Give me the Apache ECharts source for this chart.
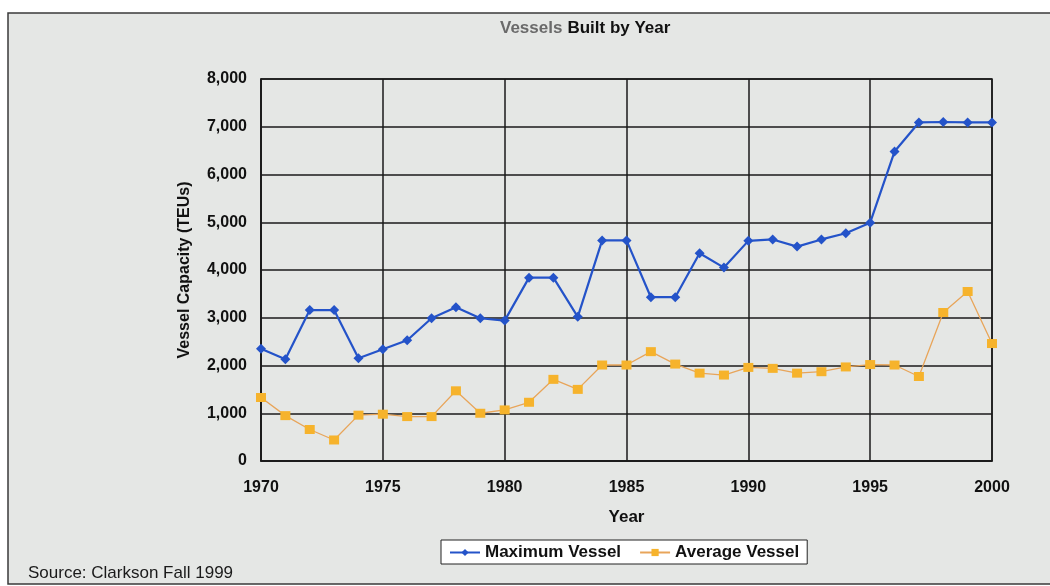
<!DOCTYPE html>
<html>
<head>
<meta charset="utf-8">
<script src="https://cdn.jsdelivr.net/npm/echarts@6/dist/echarts.min.js"></script>
<style>html,body{margin:0;padding:0;background:#fff;}#c{width:1050px;height:586px;}</style>
</head>
<body>
<div id="c"></div>
<script>
var years = [1970,1971,1972,1973,1974,1975,1976,1977,1978,1979,1980,1981,1982,1983,1984,1985,1986,1987,1988,1989,1990,1991,1992,1993,1994,1995,1996,1997,1998,1999,2000];
var maxVessel = [2350,2130,3160,3160,2150,2340,2530,2990,3220,2990,2940,3840,3840,3020,4620,4620,3430,3430,4350,4050,4610,4640,4490,4640,4770,4990,6480,7090,7100,7090,7090];
var avgVessel = [1330,950,660,440,960,980,930,930,1470,1000,1070,1230,1710,1500,2010,2010,2290,2030,1840,1800,1960,1940,1840,1870,1970,2020,2010,1770,3110,3550,2460];
var seriesNames = ['Maximum Vessel','Average Vessel'];

function pairs(v){ return years.map(function(y,i){ return [y, v[i]]; }); }

var FF = 'Liberation Sans, Arial, sans-serif';
var chart = echarts.init(document.getElementById('c'));
chart.setOption({
  backgroundColor: '#ffffff',
  animation: false,
  textStyle: { fontFamily: FF },
  graphic: [
    { type: 'rect', z: -10, silent: true, shape: { x: 8, y: 13, width: 1050, height: 571 },
      style: { fill: '#e5e7e5', stroke: '#3a3a3a', lineWidth: 1.5 } },
    { type: 'text', left: 28, top: 565, z: 10,
      style: { text: 'Source: Clarkson Fall 1999', fill: '#1a1a1a', font: '17px ' + FF } }
  ],
  title: {
    text: '{g|Vessels} {b|Built by Year}',
    left: 500, top: 19,
    padding: 0,
    textStyle: {
      rich: {
        g: { color: '#6a6a6a', fontWeight: 'bold', fontSize: 17, fontFamily: FF },
        b: { color: '#111', fontWeight: 'bold', fontSize: 17, fontFamily: FF }
      }
    }
  },
  legend: {
    data: seriesNames,
    left: 441, top: 540,
    backgroundColor: '#ffffff',
    borderColor: '#222', borderWidth: 1,
    padding: [4, 8, 3, 8],
    itemGap: 18, itemWidth: 30, itemHeight: 9,
    textStyle: { color: '#111', fontSize: 17, fontWeight: 'bold', fontFamily: FF }
  },
  grid: { left: 261, right: 58, top: 79, bottom: 125, show: true, borderColor: '#1a1a1a', borderWidth: 1.5, backgroundColor: 'transparent' },
  xAxis: {
    type: 'value', min: 1970, max: 2000, interval: 5,
    name: 'Year', nameLocation: 'middle', nameGap: 48,
    nameTextStyle: { color: '#111', fontSize: 17, fontWeight: 'bold' },
    axisLine: { show: true, lineStyle: { color: '#1a1a1a', width: 1.5 } },
    axisTick: { show: false },
    axisLabel: { color: '#111', fontSize: 16, fontWeight: 'bold', margin: 19, formatter: function(v){ return String(v); } },
    splitLine: { show: true, lineStyle: { color: '#1a1a1a', width: 1.5 } }
  },
  yAxis: {
    type: 'value', min: 0, max: 8000, interval: 1000,
    name: 'Vessel Capacity (TEUs)', nameLocation: 'middle', nameGap: 68, nameRotate: 90,
    nameTextStyle: { color: '#111', fontSize: 16, fontWeight: 'bold' },
    axisLine: { show: true, lineStyle: { color: '#1a1a1a', width: 1.5 } },
    axisTick: { show: false },
    axisLabel: { color: '#111', fontSize: 16, fontWeight: 'bold', margin: 14 },
    splitLine: { show: true, lineStyle: { color: '#1a1a1a', width: 1.5 } }
  },
  series: [
    { name: seriesNames[0], type: 'line', data: pairs(maxVessel),
      symbol: 'diamond', symbolSize: 10,
      lineStyle: { color: '#2453c9', width: 2.2 },
      itemStyle: { color: '#2453c9' } },
    { name: seriesNames[1], type: 'line', data: pairs(avgVessel),
      symbol: 'rect', symbolSize: [10, 9],
      lineStyle: { color: '#e8a55a', width: 1.3 },
      itemStyle: { color: '#f6b32c' } }
  ]
});
</script>
</body>
</html>
